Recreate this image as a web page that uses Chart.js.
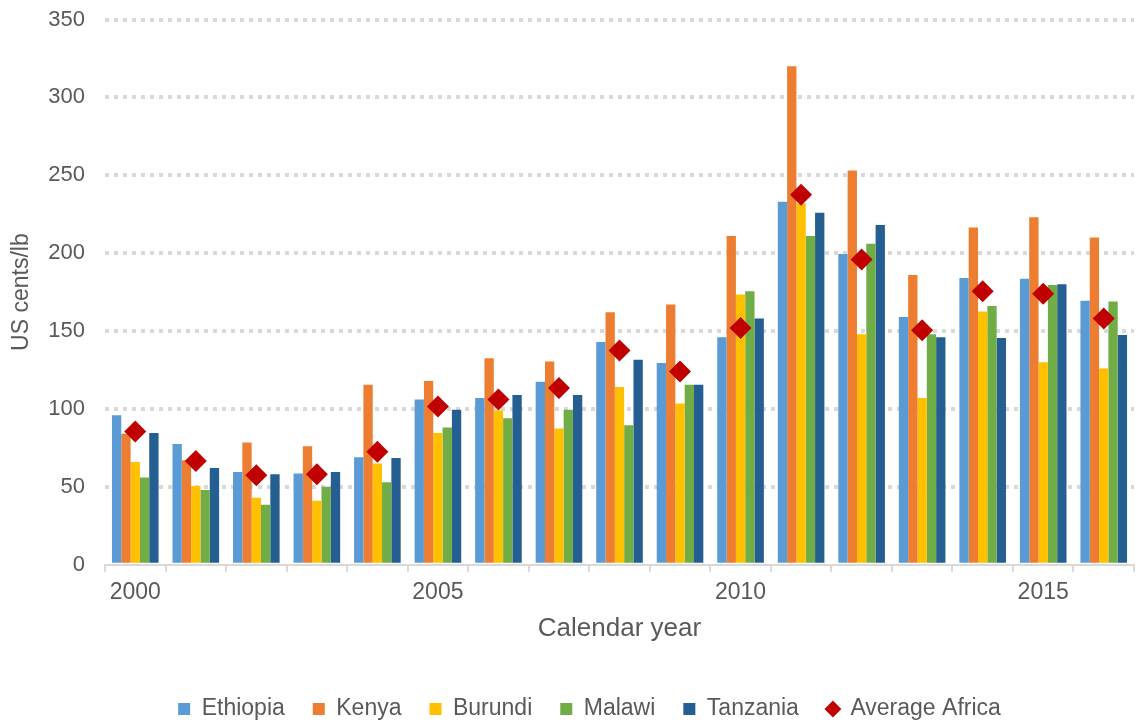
<!DOCTYPE html>
<html>
<head>
<meta charset="utf-8">
<script src="https://cdn.jsdelivr.net/npm/chart.js@4"></script>
<style>
  html, body { margin: 0; padding: 0; background: #fff; }
  #chart { display: block; }
</style>
</head>
<body>
<canvas id="chart" width="1145" height="722"></canvas>
<script>
const years = ["2000", "2001", "2002", "2003", "2004", "2005", "2006", "2007", "2008",
  "2009", "2010", "2011", "2012", "2013", "2014", "2015", "2016"];

const ethiopia = [96, 77.5, 59.5, 58.5, 69, 106, 107, 117.5, 143, 129.5, 146, 233, 199.5, 159, 184, 183.5, 169.5];
const kenya = [84, 67, 78.5, 76, 115.5, 118, 132.5, 130.5, 162, 167, 211, 320, 253, 186, 216.5, 223, 210];
const burundi = [66, 50.5, 43, 41, 65, 84.5, 99, 87.5, 114, 103.5, 173.5, 232, 148, 107, 162.5, 130, 126];
const malawi = [56, 48, 38.5, 50, 53, 88, 94, 99.5, 89.5, 115.5, 175.5, 211, 206, 148, 166, 179.5, 169];
const tanzania = [84.5, 62, 58, 59.5, 68.5, 99.5, 109, 109, 131.5, 115.5, 158, 226, 218, 146, 145.5, 180, 147.5];
const averageAfrica = [85.5, 66.5, 57.5, 58, 72.5, 101.5, 106, 113.5, 137.5, 124, 152, 237.5, 196, 150.5, 175.5, 174, 158];

const yTicks = [0, 50, 100, 150, 200, 250, 300, 350];

const fontFamily = "'Liberation Sans', Arial, sans-serif";
const textColor = "#595959";
const gridColor = "#d9d9d9";

function barSet(label, data, color) {
  return {
    type: "bar",
    label: label,
    data: data,
    backgroundColor: color,
    borderWidth: 0,
    pointStyle: "rect",
    order: 2
  };
}

// nudge the legend row a little right of the canvas centre
const legendShift = {
  id: "legendShift",
  afterLayout(chart) {
    chart.legend.left += 17;
    chart.legend.right += 17;
  }
};

const ctx = document.getElementById("chart").getContext("2d");

new Chart(ctx, {
  data: {
    labels: years,
    datasets: [
      barSet("Ethiopia", ethiopia, "#5B9BD5"),
      barSet("Kenya", kenya, "#ED7D31"),
      barSet("Burundi", burundi, "#FFC000"),
      barSet("Malawi", malawi, "#70AD47"),
      barSet("Tanzania", tanzania, "#255E91"),
      {
        type: "line",
        label: "Average Africa",
        data: averageAfrica,
        showLine: false,
        pointStyle: "rectRot",
        pointRadius: 11,
        pointHoverRadius: 11,
        backgroundColor: "#C00000",
        borderColor: "#C00000",
        borderWidth: 0,
        order: 1
      }
    ]
  },
  plugins: [legendShift],
  options: {
    responsive: false,
    animation: false,
    layout: { padding: { top: 19.5, right: 0, left: 0, bottom: -8.5 } },
    datasets: {
      bar: { barPercentage: 1, categoryPercentage: 0.77 }
    },
    plugins: {
      tooltip: { enabled: false },
      legend: {
        position: "bottom",
        labels: {
          usePointStyle: true,
          boxWidth: 12,
          boxHeight: 12,
          padding: 28,
          color: textColor,
          font: { family: fontFamily, size: 23 },
          // keep the diamond last, as in dataset order
          sort: (a, b) => a.datasetIndex - b.datasetIndex
        }
      }
    },
    scales: {
      x: {
        offset: true,
        grid: {
          offset: true,
          drawOnChartArea: false,
          drawTicks: true,
          tickLength: 7,
          color: gridColor,
          lineWidth: 2
        },
        border: { display: true, color: gridColor, width: 2 },
        ticks: {
          autoSkip: false,
          maxRotation: 0,
          padding: 7,
          color: textColor,
          font: { family: fontFamily, size: 23 },
          callback: function (value, index) {
            return index % 5 === 0 ? years[index] : "";
          }
        },
        title: {
          display: true,
          text: "Calendar year",
          color: textColor,
          font: { family: fontFamily, size: 26 },
          padding: { top: 0, bottom: 25 }
        }
      },
      y: {
        min: 0,
        max: 350,
        afterBuildTicks: function (axis) {
          axis.ticks = yTicks.map(v => ({ value: v }));
        },
        afterFit: function (axis) {
          axis.width = 105;
        },
        grid: {
          drawTicks: true,
          tickLength: 20,
          tickColor: "rgba(0,0,0,0)",
          lineWidth: 4,
          color: c => (c.tick && c.tick.value === 0 ? "rgba(0,0,0,0)" : gridColor)
        },
        border: { display: false, dash: [4, 5] },
        ticks: {
          padding: 0,
          color: textColor,
          font: { family: fontFamily, size: 22 }
        },
        title: {
          display: true,
          text: "US cents/lb",
          color: textColor,
          font: { family: fontFamily, size: 23 },
          padding: { top: 8, bottom: 0 }
        }
      }
    }
  }
});
</script>
</body>
</html>
